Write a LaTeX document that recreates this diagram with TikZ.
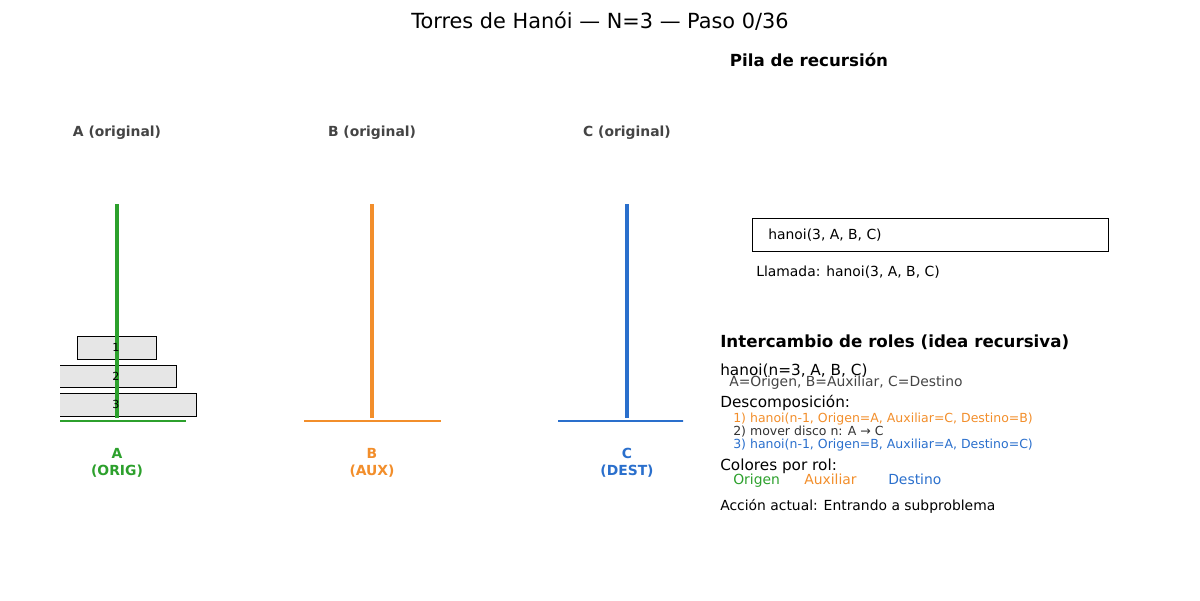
\documentclass[tikz,border=0pt]{standalone}
\usepackage{fontspec}
\setmainfont{DejaVu Sans}
\definecolor{cA}{HTML}{2CA02C}
\definecolor{cB}{HTML}{F28E2B}
\definecolor{cC}{HTML}{2A6FCC}
\definecolor{lab}{HTML}{444444}
\definecolor{diskfill}{HTML}{E6E6E6}
\begin{document}
\begin{tikzpicture}[x=0.72pt,y=-0.72pt,
  txt/.style={inner sep=0pt,anchor=base west},
  peglab/.style={inner sep=0pt,anchor=base,font=\fontsize{10}{12}\selectfont\bfseries,text=lab},
  rolelab/.style={inner sep=0pt,font=\fontsize{10}{12}\selectfont\bfseries,align=center},
  disk/.style={draw=black,fill=diskfill,line width=0.7pt},
  peg/.style={line width=2.4pt},
  base/.style={line width=2pt},
  dnum/.style={inner sep=0pt,font=\fontsize{8}{9}\selectfont}]
\useasboundingbox (0,0) rectangle (1200,600);
% title
\node[inner sep=0pt,anchor=base,font=\fontsize{15}{17}\selectfont] (title) at (600,28) {Torres de Hanói — N=3 — Paso 0/36};
\node[inner sep=0pt,anchor=base,font=\fontsize{12}{14}\selectfont\bfseries] (pila) at (809,66.5) {Pila de recursión};
% peg labels
\node[peglab] (lA) at (117,136) {A (original)};
\node[peglab] (lB) at (372,136) {B (original)};
\node[peglab] (lC) at (627,136) {C (original)};
% coordinates
\coordinate (tA) at (117,204); \coordinate (bA) at (117,418);
\coordinate (tB) at (372,204); \coordinate (bB) at (372,418);
\coordinate (tC) at (627,204); \coordinate (bC) at (627,418);
\coordinate (blA) at (49,421); \coordinate (brA) at (186,421);
\coordinate (blB) at (304,421); \coordinate (brB) at (441,421);
\coordinate (blC) at (558,421); \coordinate (brC) at (695,421);
\begin{scope}
\clip (60,0) rectangle (683,600);
\draw[base,cA] (blA) -- (brA);
\draw[base,cB] (blB) -- (brB);
\draw[base,cC] (blC) -- (brC);
\draw[disk] (77,336) rectangle (156,359);
\draw[disk] (58,365) rectangle (176,387);
\draw[disk] (38,393) rectangle (196,416);
\end{scope}
\draw[peg,cA] (tA) -- (bA);
\draw[peg,cB] (tB) -- (bB);
\draw[peg,cC] (tC) -- (bC);
\node[dnum] (d1) at (116,347.5) {1};
\node[dnum] (d2) at (116,376) {2};
\node[dnum] (d3) at (116,404.5) {3};
% role labels
\node[rolelab,text=cA] (rA) at (117,463) {A\\(ORIG)};
\node[rolelab,text=cB] (rB) at (372,463) {B\\(AUX)};
\node[rolelab,text=cC] (rC) at (627,463) {C\\(DEST)};
% stack
\node[draw=black,line width=0.8pt,minimum width=356*0.72pt,minimum height=33*0.72pt,anchor=north west,inner sep=0pt] (frame) at (752,218) {};
\node[txt,font=\fontsize{10}{12}\selectfont] (call) at (768,239.5) {hanoi(3, A, B, C)};
\node[txt,font=\fontsize{10}{12}\selectfont] (llam) at (756,276.3) {Llamada: hanoi(3, A, B, C)};
% roles
\node[txt,font=\fontsize{12}{14}\selectfont\bfseries] (inter) at (720,347.7) {Intercambio de roles (idea recursiva)};
\node[txt,font=\fontsize{11}{13}\selectfont] (h3) at (720,375) {hanoi(n=3, A, B, C)};
\node[txt,font=\fontsize{10}{12}\selectfont,text=lab] (asig) at (729,386.5) {A=Origen, B=Auxiliar, C=Destino};
\node[txt,font=\fontsize{11}{13}\selectfont] (desc) at (720,407.2) {Descomposición:};
\node[txt,font=\fontsize{9}{11}\selectfont,text=cB] (s1) at (733,422.3) {1) hanoi(n-1, Origen=A, Auxiliar=C, Destino=B)};
\node[txt,font=\fontsize{9}{11}\selectfont,text=black!80] (s2) at (733,435.3) {2) mover disco n: A → C};
\node[txt,font=\fontsize{9}{11}\selectfont,text=cC] (s3) at (733,448.3) {3) hanoi(n-1, Origen=B, Auxiliar=A, Destino=C)};
\node[txt,font=\fontsize{11}{13}\selectfont] (col) at (720,470.5) {Colores por rol:};
\node[txt,font=\fontsize{10}{12}\selectfont,text=cA] (cOr) at (733,484) {Origen};
\node[txt,font=\fontsize{10}{12}\selectfont,text=cB] (cAu) at (804,484) {Auxiliar};
\node[txt,font=\fontsize{10}{12}\selectfont,text=cC] (cDe) at (888,484) {Destino};
\node[txt,font=\fontsize{10}{12}\selectfont] (acc) at (720,510) {Acción actual: Entrando a subproblema};
\end{tikzpicture}
\end{document}
